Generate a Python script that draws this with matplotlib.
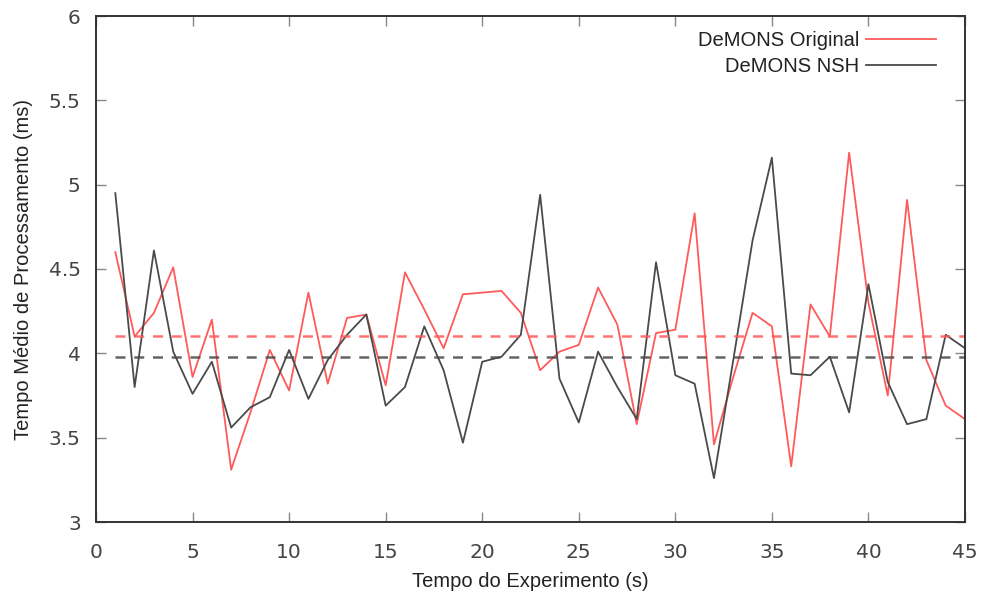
import numpy as np
import matplotlib
matplotlib.use('Agg')
import matplotlib.pyplot as plt

# tempo do experimento (s)
tempo = np.arange(1, 46)

# DeMONS Original (ms)
original = [4.60, 4.10, 4.24, 4.51, 3.86, 4.20, 3.31, 3.65, 4.02, 3.78,
            4.36, 3.82, 4.21, 4.23, 3.81, 4.48, 4.26, 4.03, 4.35, 4.36,
            4.37, 4.24, 3.90, 4.01, 4.05, 4.39, 4.17, 3.58, 4.12, 4.14,
            4.83, 3.46, 3.86, 4.24, 4.16, 3.33, 4.29, 4.10, 5.19, 4.30,
            3.75, 4.91, 3.96, 3.69, 3.61]

# DeMONS NSH (ms)
nsh = [4.95, 3.80, 4.61, 4.01, 3.76, 3.95, 3.56, 3.68, 3.74, 4.02,
       3.73, 3.96, 4.11, 4.23, 3.69, 3.80, 4.16, 3.90, 3.47, 3.95,
       3.98, 4.11, 4.94, 3.85, 3.59, 4.01, 3.80, 3.61, 4.54, 3.87,
       3.82, 3.26, 3.96, 4.67, 5.16, 3.88, 3.87, 3.98, 3.65, 4.41,
       3.83, 3.58, 3.61, 4.11, 4.03]

media_original = 4.10
media_nsh = 3.98

red = '#ff5a5a'
gray = '#4a4a4a'

fig = plt.figure(figsize=(9.87, 5.99), dpi=100)
ax = fig.add_axes([96 / 987, 1 - 522 / 599, (965 - 96) / 987, (522 - 16) / 599])

ax.plot(tempo, original, color=red, lw=1.3, label='DeMONS Original')
ax.plot(tempo, nsh, color=gray, lw=1.3, label='DeMONS NSH')
ax.plot([tempo[0], tempo[-1]], [media_original] * 2, color=red, lw=1.8,
        ls=(0, (4, 3.5)), alpha=0.85)
ax.plot([tempo[0], tempo[-1]], [media_nsh] * 2, color=gray, lw=1.8,
        ls=(0, (4, 3.5)), alpha=0.85)

ax.set_xlim(0, 45)
ax.set_ylim(3, 6)
ax.set_xticks(np.arange(0, 46, 5))
ax.set_yticks([3, 3.5, 4, 4.5, 5, 5.5, 6])
ax.set_yticklabels(['3', '3.5', '4', '4.5', '5', '5.5', '6'])

for s in ax.spines.values():
    s.set_color('#333333')
    s.set_linewidth(1.4)
ax.tick_params(direction='in', length=7, width=1, color='#888888',
               top=True, right=True, labelsize=14.5, labelcolor='#444444')
ax.tick_params(axis='x', pad=15)
ax.tick_params(axis='y', pad=11)
for t in ax.get_xticklabels() + ax.get_yticklabels():
    t.set_family('DejaVu Sans')

ax.set_xlabel('Tempo do Experimento (s)', fontsize=14.5, family='Liberation Sans',
              color='#222222', labelpad=7)
ax.set_ylabel('Tempo Médio de Processamento (ms)', fontsize=14.5,
              family='Liberation Sans', color='#222222', labelpad=11)

leg = ax.legend(loc='upper right', frameon=False, markerfirst=False,
                prop={'family': 'Liberation Sans', 'size': 14.5},
                handlelength=3.5, handletextpad=0.3, labelspacing=0.33,
                borderpad=0, borderaxespad=0,
                bbox_to_anchor=(1 - 29 / 869, 1 - 15 / 506))
for t in leg.get_texts():
    t.set_color('#222222')

fig.savefig('out.png', dpi=100)
